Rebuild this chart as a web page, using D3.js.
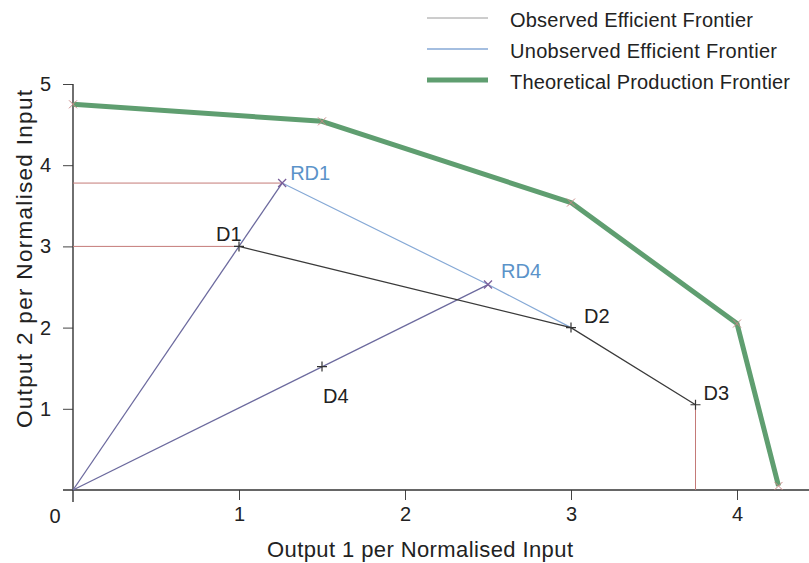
<!DOCTYPE html>
<html><head><meta charset="utf-8">
<script src="https://cdn.jsdelivr.net/npm/d3@7"></script>
<style>body{margin:0;background:#fff}svg{display:block}text{font-family:"Liberation Sans",Arial,sans-serif;fill:#222}</style>
</head><body><svg id="c" width="809" height="563"></svg>
<script>
// Data
const dmuNames = ["D1", "D2", "D3", "D4"];
const dmuX = [1, 3, 3.75, 1.5];
const dmuY = [3, 2, 1.05, 1.52];
const refNames = ["RD1", "RD4"];
const refX = [1.26, 2.5];
const refY = [3.78, 2.53];
const theoX = [0, 1.5, 3, 4, 4.25];
const theoY = [4.75, 4.54, 3.54, 2.05, 0.05];
const observedFrontier = ["D1", "D2", "D3"];
const xTicks = [1, 2, 3, 4];
const yTicks = [1, 2, 3, 4, 5];
const legendLabels = ["Observed Efficient Frontier", "Unobserved Efficient Frontier", "Theoretical Production Frontier"];
const xTitle = "Output 1 per Normalised Input";
const yTitle = "Output 2 per Normalised Input";

const svg = d3.select("#c");
const x = d3.scaleLinear().domain([0, 4]).range([73, 737]);
const y = d3.scaleLinear().domain([0, 5]).range([490, 84]);
const dmu = name => { const i = dmuNames.indexOf(name); return [dmuX[i], dmuY[i]]; };
const ref = name => { const i = refNames.indexOf(name); return [refX[i], refY[i]]; };
const line = d3.line().x(d => x(d[0])).y(d => y(d[1]));

// axes
const gx = svg.append("g").attr("transform", `translate(0,${y(0)})`)
  .call(d3.axisBottom(x).tickValues(xTicks).tickSize(10).tickPadding(7).tickFormat(d3.format("d")));
const gy = svg.append("g").attr("transform", `translate(${x(0)},0)`)
  .call(d3.axisLeft(y).tickValues(yTicks).tickSize(10).tickPadding(12).tickFormat(d3.format("d")));
[gx, gy].forEach(g => {
  g.select(".domain").remove();
  g.selectAll("line").attr("stroke", "#444").attr("stroke-width", 1);
  g.selectAll("text").attr("font-size", 20).attr("fill", "#222")
    .attr("font-family", "'Liberation Sans',Arial,sans-serif");
});
svg.append("line").attr("x1", x(0) - 10).attr("x2", 809).attr("y1", y(0)).attr("y2", y(0))
  .attr("stroke", "#333").attr("stroke-width", 1.6);
svg.append("line").attr("x1", x(0)).attr("x2", x(0)).attr("y1", y(5)).attr("y2", y(0) + 12)
  .attr("stroke", "#333").attr("stroke-width", 1.4);
svg.append("text").attr("x", x(0) - 18).attr("y", y(0) + 33).attr("text-anchor", "middle")
  .attr("font-size", 20).text("0");

// titles
svg.append("text").attr("x", 267).attr("y", 557)
  .attr("font-size", 22).attr("textLength", 306).attr("lengthAdjust", "spacing").text(xTitle);
svg.append("text").attr("transform", "translate(32,428) rotate(-90)")
  .attr("font-size", 22.5).attr("textLength", 338).attr("lengthAdjust", "spacing").text(yTitle);

// projection lines (red)
const red = "#c47a78";
svg.append("path").attr("d", line([[0, dmu("D1")[1]], dmu("D1")])).attr("stroke", red).attr("fill", "none").attr("stroke-width", 1);
svg.append("path").attr("d", line([[0, ref("RD1")[1]], ref("RD1")])).attr("stroke", red).attr("fill", "none").attr("stroke-width", 1);
svg.append("path").attr("d", line([dmu("D3"), [dmu("D3")[0], 0]])).attr("stroke", red).attr("fill", "none").attr("stroke-width", 1);

// rays from origin
const purple = "#6c6a9e";
refNames.forEach(n => {
  svg.append("path").attr("d", line([[0, 0], ref(n)])).attr("stroke", purple).attr("fill", "none").attr("stroke-width", 1.3);
});

// unobserved frontier
const blue = "#86a9d6";
svg.append("path").attr("d", line([ref("RD1"), ref("RD4"), dmu("D2")])).attr("stroke", blue).attr("fill", "none").attr("stroke-width", 1.2);

// observed frontier
svg.append("path").attr("d", line(observedFrontier.map(dmu))).attr("stroke", "#3a3a3a").attr("fill", "none").attr("stroke-width", 1.3);

// theoretical frontier
const green = "#5f9e70";
const theo = theoX.map((v, i) => [v, theoY[i]]);
svg.append("path").attr("d", line(theo)).attr("stroke", green).attr("fill", "none").attr("stroke-width", 5).attr("stroke-linejoin", "round");
theo.forEach(p => {
  const cx = x(p[0]), cy = y(p[1]);
  svg.append("path").attr("d", `M${cx-4},${cy-4}L${cx+4},${cy+4}M${cx-4},${cy+4}L${cx+4},${cy-4}`)
    .attr("stroke", "#c98a88").attr("stroke-width", 1);
});

// markers
dmuNames.forEach(n => {
  const p = dmu(n), cx = x(p[0]), cy = y(p[1]);
  svg.append("path").attr("d", `M${cx-5},${cy}L${cx+5},${cy}M${cx},${cy-5}L${cx},${cy+5}`)
    .attr("stroke", "#333").attr("stroke-width", 1.2);
});
refNames.forEach(n => {
  const p = ref(n), cx = x(p[0]), cy = y(p[1]);
  svg.append("path").attr("d", `M${cx-4},${cy-4}L${cx+4},${cy+4}M${cx-4},${cy+4}L${cx+4},${cy-4}`)
    .attr("stroke", "#7a5f9a").attr("stroke-width", 1.3);
});

// point labels
const dmuOff = {D1: [-23, -5], D2: [13, -5], D3: [8, -5], D4: [1, 36]};
dmuNames.forEach(n => {
  const p = dmu(n);
  svg.append("text").attr("x", x(p[0]) + dmuOff[n][0]).attr("y", y(p[1]) + dmuOff[n][1])
    .attr("font-size", 20).text(n);
});
const refOff = {RD1: [8, -3], RD4: [13, -7]};
refNames.forEach(n => {
  const p = ref(n);
  svg.append("text").attr("x", x(p[0]) + refOff[n][0]).attr("y", y(p[1]) + refOff[n][1])
    .attr("font-size", 20).style("fill", "#5b93c9").text(n);
});

// legend
const legColors = ["#9a9a9a", "#86a9d6", green];
const legWidths = [1, 1.3, 5];
const legLens = [243, 267, 280];
legendLabels.forEach((t, i) => {
  const ly = 18 + i * 31;
  svg.append("line").attr("x1", 427).attr("x2", 488).attr("y1", ly).attr("y2", ly)
    .attr("stroke", legColors[i]).attr("stroke-width", legWidths[i]);
  svg.append("text").attr("x", 510).attr("y", ly + 8.5).attr("font-size", 20)
    .attr("textLength", legLens[i]).attr("lengthAdjust", "spacing").text(t);
});
</script></body></html>
